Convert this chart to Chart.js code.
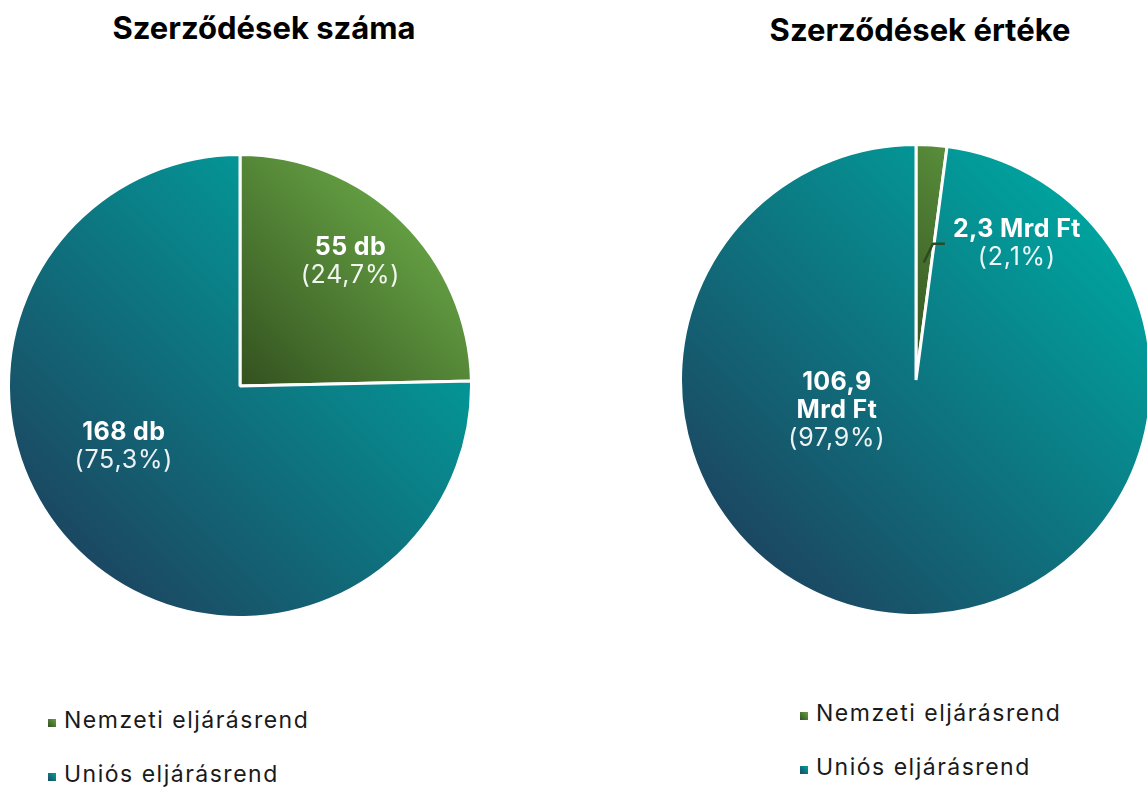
<!DOCTYPE html>
<html>
<head>
<meta charset="utf-8">
<style>
  html, body { margin: 0; padding: 0; background: #fff; overflow: hidden; }
  body { width: 1147px; height: 787px; position: relative; font-family: Inter, "Noto Sans", sans-serif; }
  .title { position: absolute; font-weight: 700; font-size: 31px; color: #000; text-align: center; white-space: nowrap; }
  .pie { position: absolute; }
  .legend { position: absolute; font-size: 23px; color: #1a1a1a; letter-spacing: 1.5px; }
  .legend div { height: 54px; display: flex; align-items: flex-start; }
  .legend span.box { display: inline-block; width: 8px; height: 8px; margin: 13px 8px 0 0; }
</style>
</head>
<body>
<div class="title" style="left:59px; width:410px; top:9px;">Szerződések száma</div>
<div class="title" style="left:715px; width:410px; top:11px;">Szerződések értéke</div>

<div class="pie" style="left:7px; top:153px; width:466px; height:466px;"><canvas id="countChart"></canvas></div>
<div class="pie" style="left:679px; top:143px; width:474px; height:474px;"><canvas id="valueChart"></canvas></div>

<div class="legend" id="legendLeft" style="left:48px; top:706px;"></div>
<div class="legend" id="legendRight" style="left:800px; top:699px;"></div>

<script src="https://cdn.jsdelivr.net/npm/chart.js"></script>
<script>
    const categories = ["Nemzeti eljárásrend", "Uniós eljárásrend"];
    const countValues = [55, 168];
    const countPercents = ["24,7%", "75,3%"];
    const valueValues = [2.3, 106.9];
    const valuePercents = ["2,1%", "97,9%"];

    const countLabels = [["55 db"], ["168 db"]];
    const valueLabels = [["2,3 Mrd Ft"], ["106,9", "Mrd Ft"]];

    // gradient stops: dark (bottom-left) -> light (top-right)
    const greenStops = ["#33511f", "#66a244"];
    const tealStops = ["#1b4862", "#00a29e"];

    function sliceGradient(context) {
        const chart = context.chart;
        const area = chart.chartArea;
        const i = context.dataIndex;
        if (!area) return i === 0 ? greenStops[1] : tealStops[1];
        const cx = (area.left + area.right) / 2;
        const cy = (area.top + area.bottom) / 2;
        const r = Math.min(area.right - area.left, area.bottom - area.top) / 2;
        let g;
        if (i === 0) {
            g = chart.ctx.createLinearGradient(cx, cy, cx + r * 0.75, cy - r * 0.75);
            g.addColorStop(0, greenStops[0]);
            g.addColorStop(1, greenStops[1]);
        } else {
            g = chart.ctx.createLinearGradient(cx - r * 0.7, cy + r * 0.7, cx + r * 0.7, cy - r * 0.7);
            g.addColorStop(0, tealStops[0]);
            g.addColorStop(1, tealStops[1]);
        }
        return g;
    }

    const sliceLabels = {
        id: "sliceLabels",
        afterDatasetsDraw(chart, args, opts) {
            const ctx = chart.ctx;
            const arcs = chart.getDatasetMeta(0).data;
            arcs.forEach((arc, i) => {
                const p = opts.place[i];
                const a = (p.angle - 90) * Math.PI / 180;
                const x = arc.x + Math.cos(a) * arc.outerRadius * p.dist;
                const y = arc.y + Math.sin(a) * arc.outerRadius * p.dist;
                const lines = opts.bold[i];
                const total = lines.length + 1;
                const lh = 28;
                let y0 = y - (total - 1) * lh / 2;
                ctx.save();
                ctx.textAlign = "center";
                ctx.textBaseline = "middle";
                ctx.fillStyle = "#ffffff";
                ctx.letterSpacing = "0.4px";
                ctx.font = "700 25px Inter";
                lines.forEach((t, k) => ctx.fillText(t, x, y0 + k * lh));
                ctx.font = "400 25px Inter";
                ctx.letterSpacing = "0.8px";
                ctx.fillStyle = "rgba(255,255,255,0.92)";
                ctx.fillText("(" + opts.pct[i] + ")", x, y0 + lines.length * lh);
                if (p.leader) {
                    const mid = (arc.startAngle + arc.endAngle) / 2;
                    const sx = arc.x + Math.cos(mid) * arc.outerRadius * 0.5;
                    const sy = arc.y + Math.sin(mid) * arc.outerRadius * 0.5;
                    ctx.font = "700 25px Inter";
                    ctx.letterSpacing = "0.4px";
                    const left = x - ctx.measureText(lines[0]).width / 2;
                    ctx.strokeStyle = "#2e4a22";
                    ctx.lineWidth = 2.5;
                    ctx.beginPath();
                    ctx.moveTo(sx, sy);
                    ctx.lineTo(left - 20, y);
                    ctx.lineTo(left - 8, y);
                    ctx.stroke();
                }
                ctx.restore();
            });
        }
    };

    function makePie(id, values, bold, pct, place) {
        new Chart(document.getElementById(id).getContext("2d"), {
            type: "pie",
            data: {
                labels: categories,
                datasets: [{
                    data: values,
                    backgroundColor: sliceGradient,
                    borderColor: "#ffffff",
                    borderWidth: 3
                }]
            },
            options: {
                responsive: true,
                maintainAspectRatio: true,
                animation: false,
                layout: { padding: 0 },
                plugins: {
                    legend: { display: false },
                    tooltip: { enabled: false },
                    sliceLabels: { bold: bold, pct: pct, place: place }
                }
            },
            plugins: [sliceLabels]
        });
    }

    makePie("countChart", countValues, countLabels, countPercents,
        [{ angle: 41.5, dist: 0.72 }, { angle: 242.6, dist: 0.565 }]);
    makePie("valueChart", valueValues, valueLabels, valuePercents,
        [{ angle: 36.5, dist: 0.72, leader: true }, { angle: 249, dist: 0.36 }]);

    function buildLegend(elId) {
        const el = document.getElementById(elId);
        categories.forEach((c, i) => {
            const row = document.createElement("div");
            const box = document.createElement("span");
            box.className = "box";
            const st = i === 0 ? greenStops : tealStops;
            box.style.background = "linear-gradient(45deg," + st[0] + "," + st[1] + ")";
            row.appendChild(box);
            row.appendChild(document.createTextNode(c));
            el.appendChild(row);
        });
    }
    buildLegend("legendLeft");
    buildLegend("legendRight");
</script>
</body>
</html>
